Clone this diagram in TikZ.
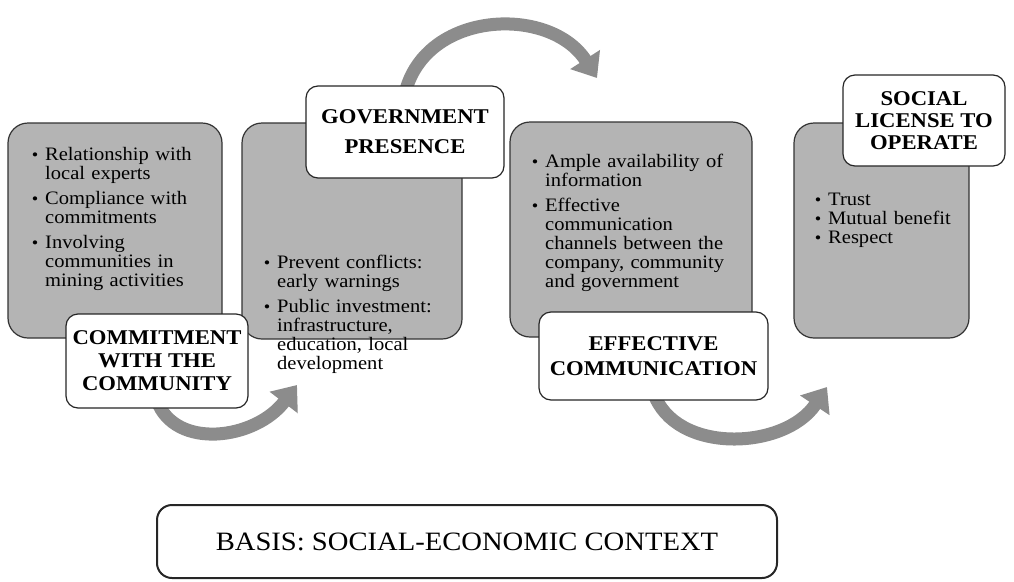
\documentclass[tikz,border=0pt]{standalone}
\usepackage{fontspec}
\setmainfont[FakeStretch=1.08]{Liberation Serif}
\usepackage{enumitem}
\usetikzlibrary{arrows.meta,backgrounds}
\definecolor{boxgray}{RGB}{180,180,180}
\definecolor{arrowgray}{RGB}{140,140,140}
\newcommand{\bodyfont}{\fontsize{19}{19}\selectfont}
\newcommand{\headfont}{\fontsize{21}{23}\selectfont\bfseries}
\setlist[itemize]{label={\fontsize{17}{17}\selectfont\textbullet}, leftmargin=16pt, labelsep=7pt, topsep=0pt, partopsep=0pt, parsep=0pt, itemsep=6pt}

\begin{document}
\begin{tikzpicture}[x=1pt, y=-1pt]

\tikzstyle{stage}=[draw=black!80, fill=boxgray, rounded corners=20pt, line width=1.2pt, inner sep=0pt]
\tikzstyle{items}=[anchor=north west, text width=215pt, align=left, inner sep=0pt, font=\bodyfont]
\tikzstyle{title}=[draw=black!85, fill=white, rounded corners=12pt, line width=1.2pt, align=center, inner sep=0pt, font=\headfont]
\tikzstyle{basis}=[draw=black!85, rounded corners=15pt, line width=2pt, minimum width=620pt, minimum height=73pt, font=\fontsize{26.5}{26.5}\selectfont]
\tikzstyle{flow}=[arrowgray, line width=13pt, -{Triangle[length=22pt,width=34pt]}]

\useasboundingbox (0,0) rectangle (1014,581);

\node[stage, minimum width=214pt, minimum height=215pt] (s1) at (115,230.5) {};
\node[stage, minimum width=220pt, minimum height=216pt] (s2) at (352,231) {};
\node[stage, minimum width=242pt, minimum height=215pt] (s3) at (631,229.5) {};
\node[stage, minimum width=175pt, minimum height=215pt] (s4) at (881.5,230.5) {};

\node[items] (t1) at (29,141) {\begin{itemize}
\item Relationship with\\ local experts
\item Compliance with\\ commitments
\item Involving\\ communities in\\ mining activities
\end{itemize}};
\node[items] (t2) at (261,249) {\begin{itemize}
\item Prevent conflicts:\\ early warnings
\item Public investment:\\ infrastructure,\\ education, local\\ development
\end{itemize}};
\node[items] (t3) at (529,148) {\begin{itemize}
\item Ample availability of\\ information
\item Effective\\ communication\\ channels between the\\ company, community\\ and government
\end{itemize}};
\node[items] (t4) at (812,186) {\begin{itemize}[itemsep=0pt]
\item Trust
\item Mutual benefit
\item Respect
\end{itemize}};

\node[title, minimum width=182pt, minimum height=94pt] (c1) at (157,361) {COMMITMENT\\ WITH THE\\ COMMUNITY};
\node[title, minimum width=198pt, minimum height=92pt] (c2) at (405,132) {GOVERNMENT\\[7pt] PRESENCE};
\node[title, minimum width=229pt, minimum height=88pt] (c3) at (653.5,356) {EFFECTIVE\\[2pt] COMMUNICATION};
\node[title, minimum width=162pt, minimum height=91pt] (c4) at (924,120.5) {SOCIAL\\[-1pt] LICENSE TO\\[-1pt] OPERATE};

\node[basis] (ctx) at (467,541.5) {BASIS: SOCIAL-ECONOMIC CONTEXT};

\coordinate (tip1) at (297,385);
\coordinate (tip2) at (597,78);
\coordinate (tip3) at (827,387);

\begin{scope}[on background layer]
\draw[flow] ([yshift=8pt]c1.south) .. controls (175,450) and (255,440) .. (tip1);
\draw[flow] ([yshift=-8pt]c2.north) .. controls (425,10) and (550,5) .. (tip2);
\draw[flow] ([yshift=8pt]c3.south) .. controls (675,455) and (785,450) .. (tip3);
\end{scope}

\end{tikzpicture}
\end{document}
